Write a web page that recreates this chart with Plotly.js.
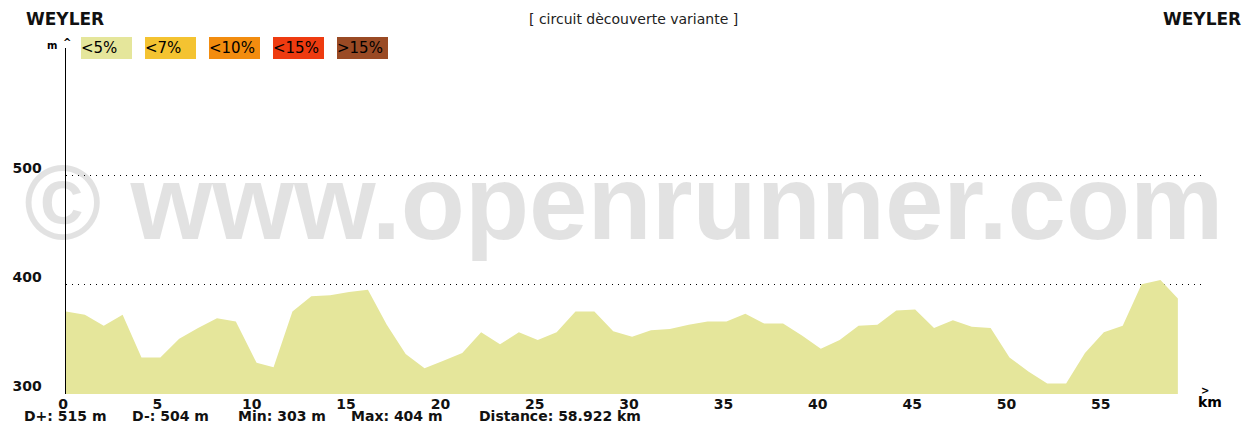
<!DOCTYPE html>
<html>
<head>
<meta charset="utf-8">
<script src="https://cdn.plot.ly/plotly-3.0.1.min.js"></script>
<style>
  html, body { margin: 0; padding: 0; background: #fff; }
  #chart { width: 1252px; height: 425px; }
</style>
</head>
<body>
<div id="chart"></div>
<script>
// ---- data ----
const distanceKm = [0, 1, 2, 3, 4, 5, 6, 7, 8, 9, 10.1, 11, 12, 13, 14, 15, 16, 17, 18, 19, 20, 21, 22, 23, 24, 25, 26, 27, 28, 29, 30, 31, 32, 33, 34, 35, 36, 37, 38, 39, 40, 41, 42, 43, 44, 45, 46, 47, 48, 49, 50, 51, 52, 53, 54, 55, 56, 57, 58, 58.922];
const elevationM = [375, 372, 362, 372, 333, 333, 350, 360, 369, 366, 328, 324, 375, 389, 390, 393, 395, 363, 336, 323, 330, 337, 356, 345, 356, 349, 356, 375, 375, 357, 352, 358, 359, 363, 366, 366, 373, 364, 364, 353, 341, 349, 362, 363, 376, 377, 360, 367, 361, 360, 333, 320, 309, 309, 337, 356, 362, 400, 404, 387];

const xTicks = [0, 5, 10, 15, 20, 25, 30, 35, 40, 45, 50, 55];
const yTicks = [300, 400, 500];

const slopeLabels = ['<5%', '<7%', '<10%', '<15%', '>15%'];

const statNames = ['D+', 'D-', 'Min', 'Max', 'Distance'];
const statValues = ['515', '504', '303', '404', '58.922'];
const statUnits = ['m', 'm', 'm', 'm', 'km'];

const startName = 'WEYLER';
const endName = 'WEYLER';
const routeName = '[ circuit dècouverte variante ]';
const watermark = '© www.openrunner.com';

// ---- styling / layout constants ----
const slopeColors = ['#e5e69b', '#f4c331', '#f28c0f', '#ee3b10', '#9a4a24'];
const W = 1252, H = 425;
const L = 66, R = 1203, T = 48, B = 394;
const FONT = 'DejaVu Sans';

const px = x => (x - L) / (R - L);
const py = y => (B - y) / (B - T);

const annotations = [];
function ann(o) {
  annotations.push(Object.assign({xref: 'paper', yref: 'paper', showarrow: false}, o));
}

// watermark
ann({text: '<b>' + watermark + '</b>', x: px(623), y: py(202), xanchor: 'center', yanchor: 'middle',
     font: {family: 'Liberation Sans', size: 105, color: 'rgba(0,0,0,0.115)'}});

// titles
ann({text: '<b>' + startName + '</b>', x: px(24), y: py(19), xanchor: 'left', yanchor: 'middle',
     font: {family: FONT, size: 17, color: '#111'}});
ann({text: '<b>' + endName + '</b>', x: px(1243), y: py(19), xanchor: 'right', yanchor: 'middle',
     font: {family: FONT, size: 17, color: '#111'}});
ann({text: routeName, x: px(633), y: py(19), xanchor: 'center', yanchor: 'middle',
     font: {family: FONT, size: 14, color: '#222'}});

// slope legend boxes
slopeLabels.forEach((lab, i) => {
  ann({text: lab, x: px(81 + 64 * i), y: py(37), xanchor: 'left', yanchor: 'top',
       width: 51, height: 22, align: 'left', valign: 'middle', borderpad: 0, borderwidth: 0,
       bgcolor: slopeColors[i], font: {family: FONT, size: 15, color: '#000'}});
});

// axis unit marks
ann({text: '<b>m</b>', x: px(52), y: py(45), xanchor: 'center', yanchor: 'middle',
     font: {family: FONT, size: 10, color: '#000'}});
ann({text: '<b>^</b>', x: px(67), y: py(43), xanchor: 'center', yanchor: 'middle',
     font: {family: FONT, size: 10, color: '#000'}});
ann({text: '<b>&gt;</b>', x: px(1205), y: py(390), xanchor: 'center', yanchor: 'middle',
     font: {family: FONT, size: 10, color: '#000'}});
ann({text: '<b>km</b>', x: px(1210), y: py(402), xanchor: 'center', yanchor: 'middle',
     font: {family: FONT, size: 14, color: '#000'}});

// stats line
const statX = [22, 130, 236, 349, 477];
statNames.forEach((n, i) => {
  ann({text: '<b>' + n + ': ' + statValues[i] + ' ' + statUnits[i] + '</b>', x: px(statX[i]), y: py(416),
       xanchor: 'left', yanchor: 'middle', font: {family: FONT, size: 14, color: '#111'}});
});

const trace = {
  x: distanceKm, y: elevationM, type: 'scatter', mode: 'lines',
  fill: 'tozeroy', fillcolor: slopeColors[0], line: {width: 0, color: slopeColors[0]},
  hoverinfo: 'x+y', showlegend: false
};

const layout = {
  width: W, height: H,
  margin: {l: L, r: W - R, t: T, b: H - B, pad: 0},
  paper_bgcolor: '#fff', plot_bgcolor: 'rgba(0,0,0,0)',
  showlegend: false,
  xaxis: {
    range: [0, (R - L) / 18.87], tickvals: xTicks, ticktext: xTicks.map(String),
    showgrid: false, zeroline: false, showline: false, ticks: '', automargin: false,
    tickfont: {family: FONT, size: 14, color: '#111', weight: 'bold'},
    ticklabelshift: -3, ticklabelstandoff: 0, fixedrange: true
  },
  yaxis: {
    range: [299.4, 299.4 + (B - T) / 1.09], tickvals: yTicks, ticktext: yTicks.map(String),
    showgrid: true, gridcolor: '#000', gridwidth: 1, griddash: '1px,5px',
    zeroline: false, showline: true, linecolor: '#000', linewidth: 1.5, ticks: '',
    automargin: false, tickfont: {family: FONT, size: 14, color: '#111', weight: 'bold'},
    ticklabelshift: -7, ticklabelstandoff: 20, fixedrange: true
  },
  annotations: annotations
};

Plotly.newPlot('chart', [trace], layout, {displayModeBar: false, staticPlot: true});
</script>
</body>
</html>
